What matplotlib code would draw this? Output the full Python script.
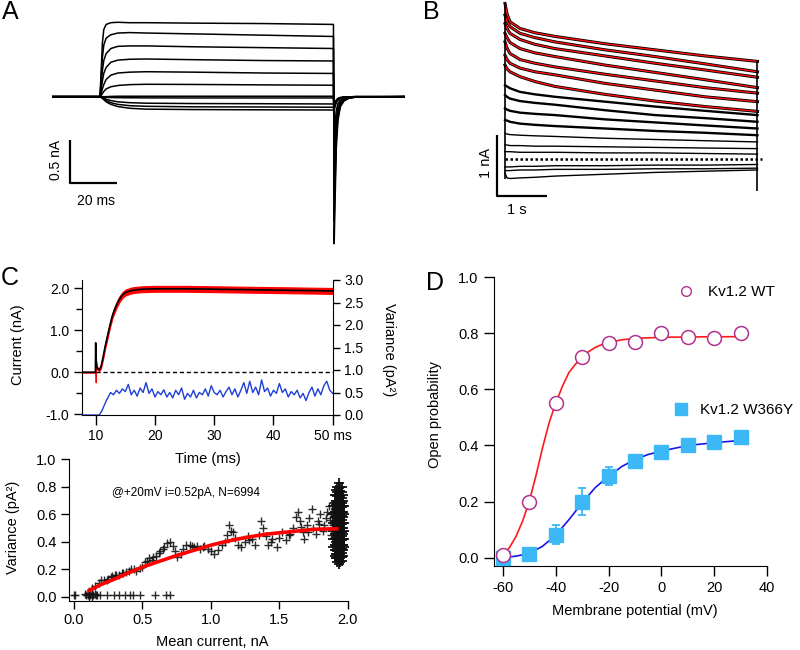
import matplotlib
matplotlib.use('Agg')
import matplotlib.pyplot as plt
import numpy as np
from matplotlib.lines import Line2D

plt.rcParams['font.family'] = ['Liberation Sans', 'DejaVu Sans']
plt.rcParams['axes.unicode_minus'] = False

# ---------------- panel A : current family (nA vs ms) ----------------
A_time = [0, 20.4, 20.9, 21.4, 22.0, 23.0, 25.0, 28.0, 33.0, 40.0, 60.0, 90.0, 119.6,
          119.9, 120.3, 120.8, 121.5, 122.5, 124.0, 126.0, 129.0, 150.0]
A_traces = [
    [0, 0, 0.30, 0.62, 0.78, 0.84, 0.86, 0.865, 0.86, 0.86, 0.855, 0.85, 0.84, -1.71, -1.20, -0.60, -0.28, -0.12, -0.05, -0.02, -0.005, 0],
    [0, 0, 0.22, 0.45, 0.60, 0.68, 0.72, 0.74, 0.745, 0.74, 0.73, 0.715, 0.70, -1.45, -1.00, -0.50, -0.24, -0.11, -0.05, -0.02, -0.005, 0],
    [0, 0, 0.15, 0.30, 0.42, 0.50, 0.56, 0.585, 0.59, 0.59, 0.58, 0.57, 0.56, -1.20, -0.85, -0.42, -0.20, -0.09, -0.04, -0.015, -0.004, 0],
    [0, 0, 0.09, 0.18, 0.27, 0.34, 0.40, 0.425, 0.435, 0.438, 0.43, 0.42, 0.415, -0.95, -0.65, -0.33, -0.16, -0.075, -0.035, -0.012, -0.003, 0],
    [0, 0, 0.04, 0.09, 0.14, 0.20, 0.25, 0.275, 0.285, 0.29, 0.285, 0.275, 0.27, -0.70, -0.48, -0.25, -0.12, -0.06, -0.028, -0.01, -0.002, 0],
    [0, 0, 0.015, 0.035, 0.06, 0.09, 0.115, 0.13, 0.14, 0.144, 0.142, 0.137, 0.133, -0.45, -0.30, -0.16, -0.08, -0.04, -0.02, -0.008, -0.002, 0],
    [0, 0, 0, 0, 0, 0, 0.003, 0.005, 0.005, 0.005, 0.005, 0.005, 0.005, -0.15, -0.10, -0.05, -0.025, -0.012, -0.006, -0.002, 0, 0],
    [0, 0, -0.002, -0.004, -0.006, -0.008, -0.010, -0.012, -0.013, -0.014, -0.015, -0.015, -0.015, -0.10, -0.07, -0.04, -0.02, -0.01, -0.005, -0.002, 0, 0],
    [0, 0, -0.005, -0.010, -0.018, -0.030, -0.045, -0.060, -0.070, -0.076, -0.080, -0.082, -0.085, -0.09, -0.07, -0.045, -0.025, -0.012, -0.006, -0.002, 0, 0],
    [0, 0, -0.007, -0.015, -0.026, -0.045, -0.070, -0.090, -0.105, -0.112, -0.118, -0.120, -0.123, -0.12, -0.09, -0.06, -0.035, -0.018, -0.008, -0.003, 0, 0],
    [0, 0, -0.009, -0.020, -0.034, -0.060, -0.090, -0.115, -0.135, -0.145, -0.150, -0.153, -0.155, -0.15, -0.11, -0.07, -0.04, -0.02, -0.01, -0.004, 0, 0],
]
A_bar_t0, A_bar_i0, A_bar_na, A_bar_ms = 7.65, -1.0, 0.5, 20

# ---------------- panel B : long pulses (nA vs s) ----------------
B_time = [0, 0.04, 0.1, 0.3, 0.6, 1, 2, 3, 4, 5.05]
B_traces = [
    [2.55, 2.38, 2.25, 2.14, 2.07, 2.01, 1.89, 1.79, 1.69, 1.60],
    [2.36, 2.26, 2.17, 2.06, 1.99, 1.92, 1.79, 1.68, 1.56, 1.43],
    [2.22, 2.14, 2.06, 1.96, 1.88, 1.81, 1.69, 1.57, 1.46, 1.34],
    [2.06, 1.99, 1.91, 1.81, 1.74, 1.68, 1.54, 1.42, 1.30, 1.17],
    [1.92, 1.82, 1.73, 1.63, 1.57, 1.51, 1.39, 1.28, 1.17, 1.08],
    [1.70, 1.63, 1.57, 1.49, 1.43, 1.38, 1.24, 1.13, 1.02, 0.94],
    [1.54, 1.48, 1.43, 1.35, 1.27, 1.19, 1.06, 0.95, 0.86, 0.78],
    [1.21, 1.19, 1.16, 1.10, 1.06, 1.02, 0.94, 0.86, 0.79, 0.72],
    [1.05, 1.02, 0.99, 0.95, 0.92, 0.89, 0.80, 0.72, 0.67, 0.61],
    [0.83, 0.81, 0.79, 0.76, 0.74, 0.72, 0.65, 0.60, 0.55, 0.50],
    [0.64, 0.63, 0.61, 0.58, 0.56, 0.54, 0.50, 0.46, 0.43, 0.39],
    [0.42, 0.41, 0.40, 0.39, 0.38, 0.37, 0.34, 0.32, 0.30, 0.28],
    [0.23, 0.23, 0.22, 0.22, 0.21, 0.21, 0.20, 0.19, 0.18, 0.17],
    [0.12, 0.12, 0.12, 0.11, 0.11, 0.11, 0.10, 0.10, 0.09, 0.08],
    [-0.13, -0.13, -0.13, -0.12, -0.12, -0.11, -0.11, -0.10, -0.10, -0.09],
    [-0.19, -0.19, -0.19, -0.18, -0.18, -0.17, -0.17, -0.16, -0.16, -0.15],
    [-0.23, -0.31, -0.32, -0.31, -0.30, -0.28, -0.25, -0.22, -0.20, -0.18],
]
B_n_fitted = 7
B_tail_min = -0.52
B_bar_t0, B_bar_i0 = -0.16, -0.607

# ---------------- panel C (top) : mean current + variance ----------------
C_time = [7.7, 9.95, 10.0, 10.05, 10.15, 10.35, 10.6, 10.85, 11.0, 11.3, 11.6, 12.0, 12.4, 12.8,
          13.2, 13.6, 14.0, 14.5, 15.0, 16.0, 17.0, 18.0, 20.0, 25.0, 30.0, 35.0, 40.0, 45.0, 50.0]
C_mean = [0, 0, 0.70, 0.30, 0.14, 0.08, 0.06, 0.12, 0.20, 0.40, 0.62, 0.87, 1.12, 1.34,
          1.50, 1.63, 1.74, 1.84, 1.90, 1.95, 1.97, 1.98, 1.99, 1.99, 1.98, 1.97, 1.96, 1.95, 1.94]
C_spread_up = [0.01, 0.01, 0.0, 0.02, 0.03, 0.03, 0.03, 0.04, 0.04, 0.05, 0.05, 0.06, 0.06, 0.06,
               0.07, 0.07, 0.07, 0.07, 0.07, 0.07, 0.07, 0.07, 0.07, 0.07, 0.07, 0.07, 0.07, 0.07, 0.07]
C_spread_dn = [0.01, 0.01, 0.94, 0.05, 0.03, 0.03, 0.03, 0.04, 0.04, 0.05, 0.05, 0.06, 0.06, 0.06,
               0.07, 0.07, 0.07, 0.07, 0.07, 0.07, 0.07, 0.07, 0.07, 0.07, 0.07, 0.07, 0.07, 0.07, 0.07]
C_pulse_start, C_pulse_end = 10.0, 50.0
var_rise_t = [7.7, 10.6, 11.0, 11.4, 11.8, 12.2]
var_rise = [0.0, 0.0, 0.08, 0.20, 0.32, 0.42]
var_noise = [0.50, 0.45, 0.55, 0.48, 0.58, 0.52, 0.68, 0.45, 0.55, 0.42, 0.60, 0.50, 0.72, 0.48,
             0.58, 0.40, 0.52, 0.45, 0.56, 0.40, 0.50, 0.38, 0.55, 0.45, 0.60, 0.35, 0.48, 0.40,
             0.55, 0.38, 0.50, 0.45, 0.58, 0.42, 0.65, 0.50, 0.45, 0.55, 0.40, 0.52, 0.62, 0.45,
             0.58, 0.40, 0.55, 0.72, 0.48, 0.75, 0.50, 0.62, 0.45, 0.78, 0.52, 0.60, 0.42, 0.55,
             0.48, 0.70, 0.50, 0.58, 0.40, 0.52, 0.45, 0.55, 0.38, 0.48, 0.32, 0.50, 0.62, 0.42,
             0.58, 0.45, 0.65, 0.75, 0.55, 0.48]

# ---------------- panel C (bottom) : variance vs mean ----------------
S_low_x = [0.0, 0.01, 0.08, 0.09, 0.10, 0.10, 0.11, 0.11, 0.12, 0.12, 0.13, 0.13, 0.14, 0.15,
           0.16, 0.17, 0.19, 0.24, 0.29, 0.33, 0.37, 0.41, 0.43, 0.48, 0.59, 0.67, 0.70]
S_low_y = [0.01, 0.01, 0.02, 0.01, 0.03, 0.01, 0.02, 0.0, 0.03, 0.01, 0.02, 0.0, 0.01, 0.02,
           0.01, 0.01, 0.01, 0.01, 0.01, 0.01, 0.01, 0.01, 0.01, 0.01, 0.01, 0.01, 0.01]
S_mid_x = [0.13, 0.15, 0.18, 0.20, 0.22, 0.25, 0.28, 0.30, 0.33, 0.35, 0.38, 0.40, 0.42, 0.45,
           0.48, 0.50, 0.52, 0.55, 0.57, 0.60, 0.62, 0.65, 0.68, 0.70, 0.72, 0.74, 0.75, 0.78,
           0.80, 0.82, 0.85, 0.88, 0.90, 0.92, 0.95, 0.98, 1.00, 1.02, 1.05, 1.08, 1.10, 1.12,
           1.13, 1.15, 1.18, 1.20, 1.22, 1.25, 1.27, 1.30, 1.32, 1.35, 1.37, 1.38, 1.40, 1.42,
           1.45, 1.48, 1.50, 1.52, 1.55, 1.57, 1.60, 1.62, 1.64, 1.65, 1.67, 1.68, 1.70, 1.72,
           1.74, 1.75, 1.77, 1.78, 1.80, 1.82, 1.83, 1.85, 1.86, 1.87, 1.88, 1.89,
           0.24, 0.27, 0.31, 0.36, 0.44, 0.53, 0.58, 0.63, 0.66, 0.86, 0.94, 1.16, 1.28,
           1.44, 1.58, 1.66, 1.71, 1.79, 1.84, 1.88]
S_mid_y = [0.06, 0.08, 0.10, 0.12, 0.125, 0.13, 0.15, 0.16, 0.155, 0.17, 0.18, 0.19, 0.20, 0.19,
           0.21, 0.22, 0.25, 0.28, 0.27, 0.30, 0.32, 0.35, 0.39, 0.395, 0.37, 0.33, 0.29, 0.31,
           0.35, 0.38, 0.375, 0.36, 0.37, 0.35, 0.37, 0.35, 0.33, 0.31, 0.34, 0.38, 0.40, 0.45,
           0.52, 0.48, 0.43, 0.38, 0.36, 0.40, 0.44, 0.42, 0.38, 0.45, 0.55, 0.50, 0.44, 0.38,
           0.42, 0.36, 0.43, 0.47, 0.41, 0.45, 0.50, 0.58, 0.62, 0.55, 0.47, 0.42, 0.52, 0.57,
           0.64, 0.50, 0.46, 0.55, 0.60, 0.48, 0.52, 0.62, 0.66, 0.56, 0.45, 0.52,
           0.12, 0.14, 0.16, 0.175, 0.20, 0.26, 0.29, 0.33, 0.36, 0.37, 0.36, 0.47, 0.41,
           0.40, 0.46, 0.51, 0.47, 0.53, 0.57, 0.60]
S_blob_cols = [1.895, 1.905, 1.915, 1.925, 1.935, 1.945, 1.955, 1.965, 1.975]
S_blob_y = [
    [0.36, 0.42, 0.48, 0.54, 0.60, 0.66],
    [0.30, 0.34, 0.38, 0.42, 0.46, 0.50, 0.54, 0.58, 0.62, 0.68, 0.74],
    [0.28, 0.31, 0.34, 0.37, 0.40, 0.43, 0.46, 0.49, 0.52, 0.55, 0.58, 0.61, 0.64, 0.67, 0.70, 0.74, 0.78],
    [0.25, 0.28, 0.31, 0.34, 0.37, 0.40, 0.43, 0.46, 0.49, 0.52, 0.55, 0.58, 0.61, 0.64, 0.67, 0.70, 0.73, 0.76, 0.80],
    [0.24, 0.27, 0.30, 0.33, 0.36, 0.39, 0.42, 0.45, 0.48, 0.51, 0.54, 0.57, 0.60, 0.63, 0.66, 0.69, 0.72, 0.75, 0.79, 0.83],
    [0.25, 0.28, 0.31, 0.34, 0.37, 0.40, 0.43, 0.46, 0.49, 0.52, 0.55, 0.58, 0.61, 0.64, 0.67, 0.70, 0.73, 0.77, 0.80],
    [0.26, 0.29, 0.32, 0.35, 0.38, 0.41, 0.44, 0.47, 0.50, 0.53, 0.56, 0.59, 0.62, 0.65, 0.68, 0.72, 0.76, 0.80],
    [0.30, 0.34, 0.38, 0.42, 0.46, 0.50, 0.54, 0.58, 0.62, 0.66, 0.70, 0.74],
    [0.36, 0.42, 0.48, 0.54, 0.60, 0.66],
]
S_fit_x = [0.11, 0.2, 0.3, 0.4, 0.5, 0.6, 0.75, 0.9, 1.0, 1.1, 1.25, 1.4, 1.5, 1.6, 1.75, 1.92]
S_fit_y = [0.045, 0.09, 0.13, 0.175, 0.215, 0.25, 0.30, 0.345, 0.375, 0.40, 0.43, 0.455, 0.465, 0.475, 0.49, 0.495]

# ---------------- panel D : open probability ----------------
D_volt = [-60, -50, -40, -30, -20, -10, 0, 10, 20, 30]
D_wt = [0.01, 0.20, 0.55, 0.715, 0.767, 0.768, 0.80, 0.786, 0.782, 0.80]
D_mut = [0.0, 0.014, 0.081, 0.20, 0.291, 0.346, 0.378, 0.40, 0.411, 0.429]
D_mut_err = [0.0, 0.0, 0.034, 0.048, 0.033, 0.01, 0.0, 0.0, 0.0, 0.0]
D_fit_v_wt = [-60, -57.5, -55, -52.5, -50, -47.5, -45, -42.5, -40, -37.5, -35, -32.5, -30,
              -27.5, -25, -22.5, -20, -15, -10, 0, 10, 20, 30]
D_fit_wt = [0.01, 0.035, 0.075, 0.13, 0.20, 0.29, 0.39, 0.48, 0.55, 0.61, 0.66, 0.69, 0.715,
            0.735, 0.75, 0.76, 0.767, 0.777, 0.782, 0.786, 0.787, 0.788, 0.788]
D_fit_v_mut = [-60, -55, -50, -45, -40, -35, -30, -25, -20, -15, -10, -5, 0, 10, 20, 30]
D_fit_mut = [0.0, 0.005, 0.015, 0.04, 0.08, 0.135, 0.195, 0.25, 0.29, 0.325, 0.35, 0.368,
             0.38, 0.40, 0.41, 0.418]

fig = plt.figure(figsize=(8, 6.5), dpi=100)


def rect(x0, y0, x1, y1):
    return [x0 / 800, 1 - y1 / 650, (x1 - x0) / 800, (y1 - y0) / 650]


def ftext(x, y, s, **kw):
    kw.setdefault('ha', 'center')
    kw.setdefault('va', 'center')
    fig.text(x / 800, 1 - y / 650, s, **kw)


# panel A
axA = fig.add_axes(rect(52, 0, 405, 250))
for tr in A_traces:
    axA.plot(A_time, tr, color='k', lw=1.1)
axA.plot([A_bar_t0, A_bar_t0, A_bar_t0 + A_bar_ms],
         [A_bar_i0 + A_bar_na, A_bar_i0, A_bar_i0], color='k', lw=1.6, solid_capstyle='butt')
axA.set_xlim(0, 150)
axA.set_ylim(-1.783, 1.124)
axA.axis('off')
ftext(56, 160, '0.5 nA', rotation=90, fontsize=10)
ftext(96, 201, '20 ms', fontsize=10)

# panel B
axB = fig.add_axes(rect(480, 0, 770, 250))
for i, tr in enumerate(B_traces):
    lw = 2.2 if i < B_n_fitted else (1.7 if i < 11 else 1.0)
    axB.plot(B_time, tr, color='k', lw=lw)
for tr in B_traces[:B_n_fitted]:
    axB.plot(B_time, tr, color='#ff1010', lw=1.0)
starts = [tr[0] for tr in B_traces]
axB.vlines(B_time[0], min(starts) - 0.1, max(starts), color='k', lw=1.2)
axB.vlines(B_time[-1], B_tail_min, B_traces[0][-1], color='k', lw=1.2)
axB.plot([B_time[0], B_time[-1] + 0.1], [0, 0], color='k', lw=1.8, ls=(0, (1, 1)))
axB.plot([B_bar_t0, B_bar_t0, B_bar_t0 + 1], [B_bar_i0 + 1, B_bar_i0, B_bar_i0],
         color='k', lw=1.6, solid_capstyle='butt')
axB.set_xlim(-0.5, 5.3)
axB.set_ylim(-1.492, 2.607)
axB.axis('off')
ftext(486, 163, '1 nA', rotation=90, fontsize=10.5)
ftext(517, 210, '1 s', fontsize=10.5)

# panel C top
axC = fig.add_axes(rect(82, 280, 333, 415))
lo = np.array(C_mean) - np.array(C_spread_dn)
hi = np.array(C_mean) + np.array(C_spread_up)
axC.fill_between(C_time, lo, hi, facecolor='#ff0000', edgecolor='#ff0000', lw=0.8)
axC.plot(C_time, C_mean, color='k', lw=1.2)
axC.plot([C_pulse_start, C_pulse_end], [0, 0], color='k', lw=1.0, ls=(0, (3, 2)))
axC.set_xlim(7.69, 50.05)
axC.set_ylim(-1.02, 2.2)
axC.set_yticks([-1, 0, 1, 2])
axC.set_yticklabels(['-1.0', '0.0', '1.0', '2.0'])
axC.set_yticks([-0.5, 0.5, 1.5], minor=True)
axC.set_xticks([10, 20, 30, 40, 50])
axC.set_xticklabels(['10', '20', '30', '40', '50 ms'])
for s in ['top', 'right']:
    axC.spines[s].set_visible(False)
axC.tick_params(which='major', direction='out', length=6, width=1, labelsize=10, pad=3)
axC.tick_params(axis='x', length=7)
axC.tick_params(which='minor', direction='out', length=4, width=1)

axCr = axC.twinx()
axCr.plot(var_rise_t + list(np.linspace(12.5, 50.0, len(var_noise))),
          var_rise + var_noise, color='#1e3fd6', lw=1.0)
axCr.set_ylim(0, 3.0)
axCr.set_yticks([0, 0.5, 1.0, 1.5, 2.0, 2.5, 3.0])
axCr.set_yticklabels(['0.0', '0.5', '1.0', '1.5', '2.0', '2.5', '3.0'])
for s in ['top', 'left', 'bottom']:
    axCr.spines[s].set_visible(False)
axCr.tick_params(direction='out', length=5, width=1, labelsize=10, pad=3)

ftext(18, 345, 'Current (nA)', rotation=90, fontsize=10.5)
ftext(389, 350, 'Variance (pA²)', rotation=270, fontsize=10.5)
ftext(208, 459, 'Time (ms)', fontsize=10.5)

# panel C bottom
axS = fig.add_axes(rect(69, 459.3, 347.7, 601))
blob_x = [c for c, ys in zip(S_blob_cols, S_blob_y) for _ in ys]
blob_y = [y for ys in S_blob_y for y in ys]
axS.plot(S_low_x + S_mid_x, S_low_y + S_mid_y, ls='none', marker='+',
         ms=5.5, mew=1.0, color='#151515', alpha=0.9)
axS.plot(blob_x, blob_y, ls='none', marker='+', ms=6.5, mew=1.3, color='#101010')
axS.plot(S_fit_x, S_fit_y, color='#ff0000', lw=2.6)
axS.set_xlim(-0.0365, 2.0)
axS.set_ylim(-0.031, 1.0)
axS.set_yticks([0, 0.2, 0.4, 0.6, 0.8, 1.0])
axS.set_yticklabels(['0.0', '0.2', '0.4', '0.6', '0.8', '1.0'])
axS.set_xticks([0, 0.5, 1.0, 1.5, 2.0])
axS.set_xticklabels(['0.0', '0.5', '1.0', '1.5', '2.0'])
for s in ['top', 'right']:
    axS.spines[s].set_visible(False)
axS.tick_params(direction='out', length=6, width=1, labelsize=10.5, pad=3)
ftext(112, 493, '@+20mV i=0.52pA, N=6994', ha='left', fontsize=8.5)
ftext(13, 527, 'Variance (pA²)', rotation=90, fontsize=10.5)
ftext(212, 642, 'Mean current, nA', fontsize=10.5)

# panel D
axD = fig.add_axes(rect(494, 277.3, 767.3, 566))
wt_col, wt_edge, mut_col = '#ff1a1a', '#b0338f', '#3bb8f5'
axD.plot(D_fit_v_mut, D_fit_mut, color='#1616ee', lw=1.2, zorder=2)
axD.errorbar(D_volt, D_mut, yerr=D_mut_err, fmt='s', ms=10, color=mut_col, mec=mut_col,
             ecolor=mut_col, elinewidth=1.3, capsize=3, capthick=1.3, zorder=3)
axD.plot(D_fit_v_wt, D_fit_wt, color=wt_col, lw=1.2, zorder=4)
axD.plot(D_volt, D_wt, ls='none', marker='o', ms=10, mfc='white', mec=wt_edge, mew=1.1, zorder=5)
axD.set_xlim(-63.3, 40)
axD.set_ylim(-0.03, 1.0)
axD.set_yticks([0, 0.2, 0.4, 0.6, 0.8, 1.0])
axD.set_yticklabels(['0.0', '0.2', '0.4', '0.6', '0.8', '1.0'])
axD.set_xticks([-60, -40, -20, 0, 20, 40])
for s in ['top', 'right']:
    axD.spines[s].set_visible(False)
axD.tick_params(direction='out', length=7, width=1, labelsize=10.5, pad=4)
h_wt = Line2D([], [], ls='none', marker='o', ms=7, mfc='white', mec=wt_edge, mew=1.0)
h_mut = Line2D([], [], ls='none', marker='s', ms=8, color=mut_col)
leg1 = axD.legend([h_wt], ['Kv1.2 WT'], loc='center left', bbox_to_anchor=(0.675, 0.949),
                  frameon=False, fontsize=11, handlelength=1.0, handletextpad=0.9,
                  borderpad=0, borderaxespad=0)
axD.add_artist(leg1)
axD.legend([h_mut], ['Kv1.2 W366Y'], loc='center left', bbox_to_anchor=(0.655, 0.540),
           frameon=False, fontsize=11, handlelength=1.0, handletextpad=0.75,
           borderpad=0, borderaxespad=0)
ftext(435, 415, 'Open probability', rotation=90, fontsize=10.5)
ftext(635, 611, 'Membrane potential (mV)', fontsize=10.5)

# panel letters
for lab, x, y in [('A', 10, 12), ('B', 431, 12), ('C', 10, 278), ('D', 435, 283)]:
    ftext(x, y, lab, fontsize=18)

fig.savefig('out.png', dpi=100)
